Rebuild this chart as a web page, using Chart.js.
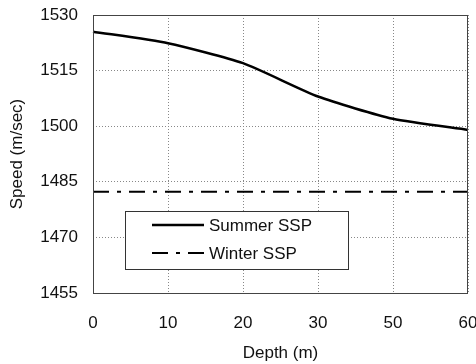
<!DOCTYPE html>
<html>
<head>
<meta charset="utf-8">
<script src="https://cdn.jsdelivr.net/npm/chart.js@4"></script>
<style>
  html, body { margin: 0; padding: 0; background: #fff; }
  #wrap { width: 476px; height: 364px; }
</style>
</head>
<body>
<div id="wrap"><canvas id="sspChart" width="476" height="364"></canvas></div>
<script>
const depths = ['0', '10', '20', '30', '50', '60'];
const summerSSP = [1525.5, 1522.4, 1517, 1508, 1502, 1499];
const winterSSP = [1482.3, 1482.3, 1482.3, 1482.3, 1482.3, 1482.3];
const speedTicks = [1455, 1470, 1485, 1500, 1515, 1530];

const FONT = "'Liberation Sans', Arial, sans-serif";

// legend box sitting inside the plot area
const boxLegend = {
  id: 'boxLegend',
  afterDraw(chart) {
    const { ctx, chartArea } = chart;
    const x = chartArea.left + 32;
    const y = chartArea.top + 196;
    const w = 223, h = 58;
    ctx.save();
    ctx.fillStyle = '#fff';
    ctx.fillRect(x, y, w, h);
    ctx.strokeStyle = '#333';
    ctx.lineWidth = 1;
    ctx.strokeRect(x + 0.5, y + 0.5, w, h);
    ctx.font = '17px ' + FONT;
    ctx.textBaseline = 'middle';
    ctx.fillStyle = '#111';
    chart.data.datasets.forEach((ds, i) => {
      const ly = y + 14 + i * 28;
      ctx.beginPath();
      ctx.setLineDash(ds.borderDash || []);
      ctx.lineWidth = ds.borderWidth;
      ctx.strokeStyle = ds.borderColor;
      ctx.moveTo(x + 27, ly);
      ctx.lineTo(x + 79, ly);
      ctx.stroke();
      ctx.setLineDash([]);
      ctx.fillText(ds.label, x + 84, ly + 1);
    });
    ctx.restore();
  }
};

// thin frame round the plot
const plotFrame = {
  id: 'plotFrame',
  afterDatasetsDraw(chart) {
    const { ctx, chartArea: a } = chart;
    ctx.save();
    ctx.strokeStyle = '#444';
    ctx.lineWidth = 1;
    ctx.strokeRect(a.left + 0.5, a.top + 0.5, a.right - a.left - 1, a.bottom - a.top);
    ctx.restore();
  }
};

new Chart(document.getElementById('sspChart').getContext('2d'), {
  type: 'line',
  data: {
    labels: depths,
    datasets: [
      {
        label: 'Summer SSP',
        data: summerSSP,
        borderColor: '#000',
        borderWidth: 2.5,
        pointRadius: 0,
        tension: 0.2,
        fill: false
      },
      {
        label: 'Winter SSP',
        data: winterSSP,
        borderColor: '#000',
        borderWidth: 2,
        borderDash: [16, 8, 4, 8],
        pointRadius: 0,
        tension: 0,
        fill: false
      }
    ]
  },
  options: {
    responsive: false,
    animation: false,
    layout: { padding: { top: 15, right: 8, left: 0, bottom: 0 } },
    plugins: { legend: { display: false }, tooltip: { enabled: false } },
    scales: {
      x: {
        type: 'category',
        offset: false,
        grid: { color: '#888', lineWidth: 1, drawTicks: false },
        border: { display: false, dash: [1, 2] },
        ticks: { color: '#111', font: { family: FONT, size: 17 }, padding: 20, maxRotation: 0 },
        title: { display: true, text: 'Depth (m)', color: '#111', font: { family: FONT, size: 17 }, padding: { top: 10, bottom: 0 } },
        afterFit(scale) {
          scale.height = 71;
          scale.paddingLeft = 0;
          scale.paddingRight = 0;
        }
      },
      y: {
        min: 1455,
        max: 1530,
        afterBuildTicks(scale) { scale.ticks = speedTicks.map(v => ({ value: v })); },
        grid: { color: '#888', lineWidth: 1, drawTicks: false },
        border: { display: false, dash: [1, 2] },
        ticks: { color: '#111', font: { family: FONT, size: 17 }, padding: 15, callback: v => String(v) },
        title: { display: true, text: 'Speed (m/sec)', color: '#111', font: { family: FONT, size: 17 }, padding: { top: 7, bottom: 0 } },
        afterFit(scale) {
          scale.width = 93;
          scale.paddingTop = 0;
          scale.paddingBottom = 0;
        }
      }
    }
  },
  plugins: [boxLegend, plotFrame]
});
</script>
</body>
</html>
